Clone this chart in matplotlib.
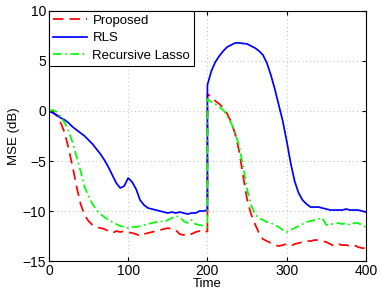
import matplotlib
matplotlib.use("Agg")
import matplotlib.pyplot as plt

plt.rcParams['font.family'] = ['Liberation Sans', 'DejaVu Sans']

time_a = list(range(0, 201, 5))
time_b = list(range(200, 401, 5))

proposed_a = [0, -0.1, -0.5, -1.2, -2.2, -3.8, -5.6, -7.6, -9.3, -10.4, -11.0, -11.4, -11.6, -11.7, -11.8, -12.0,
              -12.2, -12.0, -12.1, -12.0, -12.1, -12.2, -12.3, -12.5, -12.3, -12.2, -12.1, -12.0, -11.9, -11.8,
              -11.7, -11.8, -11.9, -12.3, -12.4, -12.2, -12.3, -12.1, -12.0, -12.2, -12.0]
proposed_b = [1.7, 1.4, 1.0, 0.7, 0.3, -0.3, -1.1, -2.3, -4.0, -6.5, -8.8, -10.3, -11.3, -12.2, -12.8, -13.0,
              -13.2, -13.4, -13.5, -13.4, -13.3, -13.5, -13.3, -13.2, -13.1, -13.0, -13.0, -12.9, -12.9, -13.0,
              -13.1, -13.3, -13.5, -13.3, -13.4, -13.4, -13.5, -13.4, -13.6, -13.7, -13.7]

rls_a = [0, -0.2, -0.4, -0.7, -0.9, -1.2, -1.6, -1.9, -2.2, -2.5, -2.9, -3.3, -3.8, -4.3, -4.9, -5.6,
         -6.4, -7.2, -7.7, -7.5, -6.7, -7.1, -7.8, -8.9, -9.4, -9.7, -9.8, -9.9, -10.0, -10.1,
         -10.2, -10.1, -10.2, -10.1, -10.2, -10.3, -10.2, -10.2, -10.0, -10.0, -9.9]
rls_b = [2.6, 4.0, 4.9, 5.5, 6.0, 6.4, 6.6, 6.8, 6.8, 6.75, 6.7, 6.5, 6.3, 6.0, 5.6, 4.8,
         3.6, 2.2, 0.6, -1.0, -3.0, -5.2, -7.0, -8.2, -8.9, -9.3, -9.6, -9.6, -9.6, -9.7,
         -9.8, -9.9, -9.9, -9.9, -9.9, -9.8, -9.9, -9.9, -9.9, -10.0, -10.1]

lasso_a = [0, 0.1, -0.1, -0.6, -1.2, -2.0, -3.2, -4.6, -6.0, -7.6, -8.5, -9.3, -9.9, -10.3, -10.6, -10.9,
           -11.1, -11.3, -11.5, -11.6, -11.7, -11.6, -11.6, -11.5, -11.4, -11.3, -11.2, -11.1, -11.0, -11.1,
           -10.9, -10.7, -10.5, -10.6, -11.0, -11.2, -10.9, -11.3, -11.4, -11.5, -11.6]
lasso_b = [1.2, 0.9, 0.7, 0.4, 0.1, -0.5, -1.2, -2.2, -3.5, -5.5, -7.8, -9.4, -10.3, -10.7, -10.9, -11.1,
           -11.2, -11.4, -11.6, -11.9, -12.1, -11.9, -11.7, -11.5, -11.3, -11.1, -11.0, -10.9, -10.8, -10.7,
           -11.4, -11.3, -11.3, -11.2, -11.3, -11.2, -11.4, -11.2, -11.2, -11.4, -11.6]

t = time_a + time_b
fig = plt.figure(figsize=(3.82, 2.95), dpi=100)
ax = fig.add_axes([0.128, 0.115, 0.83, 0.848])

ax.plot(t, proposed_a + proposed_b, color='#ff0000', ls=(0, (6, 3.5)), lw=1.25, label='Proposed')
ax.plot(t, rls_a + rls_b, color='#0000ff', ls='-', lw=1.25, label='RLS')
ax.plot(t, lasso_a + lasso_b, color='#00ff00', ls=(0, (5, 2, 1, 2)), lw=1.25, label='Recursive Lasso')

ax.set_xlim(0, 400)
ax.set_ylim(-15, 10)
ax.set_xticks([0, 100, 200, 300, 400])
ax.set_yticks([-15, -10, -5, 0, 5, 10])
ax.grid(True, color='#c8c8c8', ls=(0, (1, 2.5)), lw=0.8)
ax.tick_params(direction='in', labelsize=10, length=3, top=True, right=True, pad=2)
ax.set_xlabel('Time', fontsize=9.5, labelpad=0)
ax.set_ylabel('MSE (dB)', fontsize=9.5, labelpad=2)
for s in ax.spines.values():
    s.set_linewidth(0.8)

leg = ax.legend(loc='upper left', fontsize=9.5, fancybox=False, framealpha=1, edgecolor='black',
                borderaxespad=0, handlelength=2.6, handletextpad=0.4, borderpad=0.3, labelspacing=0.38)
leg.get_frame().set_linewidth(0.8)

fig.savefig('out.png', dpi=100)
